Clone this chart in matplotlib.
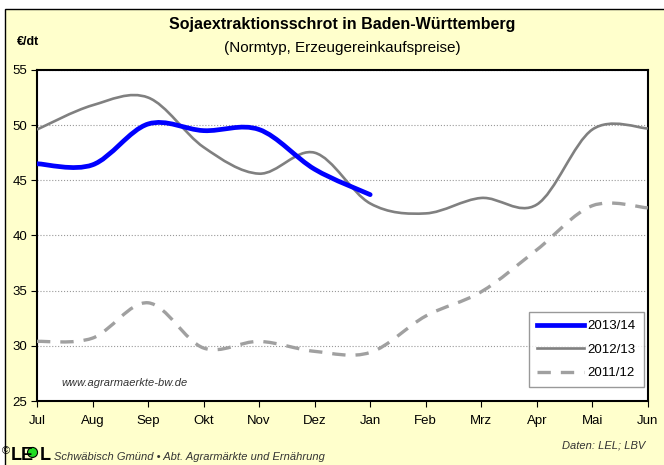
import numpy as np
import matplotlib.pyplot as plt
from matplotlib.path import Path
from matplotlib.patches import PathPatch, Rectangle, Ellipse
from matplotlib.lines import Line2D

plt.rcParams['font.family'] = ['Liberation Sans', 'DejaVu Sans']

months = ['Jul', 'Aug', 'Sep', 'Okt', 'Nov', 'Dez', 'Jan', 'Feb', 'Mrz', 'Apr', 'Mai', 'Jun']
s2013 = [46.5, 46.4, 50.1, 49.5, 49.6, 46.0, 43.7]
s2012 = [49.6, 51.8, 52.5, 48.0, 45.6, 47.5, 42.9, 42.0, 43.4, 42.8, 49.6, 49.7]
s2011 = [30.4, 30.7, 33.9, 29.8, 30.4, 29.5, 29.4, 32.7, 34.9, 38.7, 42.7, 42.5]


def smooth_path(y):
    # Excel-like smoothed line: cubic Bezier through each point
    x = np.arange(len(y), dtype=float)
    p = np.column_stack([x, np.asarray(y, dtype=float)])
    verts = [p[0]]
    codes = [Path.MOVETO]
    n = len(p)
    for i in range(n - 1):
        p0 = p[i - 1] if i > 0 else p[i]
        p3 = p[i + 2] if i + 2 < n else p[i + 1]
        c1 = p[i] + (p[i + 1] - p0) / 6
        c2 = p[i + 1] - (p3 - p[i]) / 6
        verts += [c1, c2, p[i + 1]]
        codes += [Path.CURVE4] * 3
    return Path(verts, codes)


fig = plt.figure(figsize=(6.64, 4.65), dpi=100)
fig.patch.set_facecolor('white')
fig.patches.append(Rectangle((0.0075, -0.05), 1.1, 1.031, transform=fig.transFigure,
                             facecolor='#FFFFCC', edgecolor='black', linewidth=1, zorder=-2))

ax = fig.add_axes([0.0557, 0.1376, 0.920, 0.712])
ax.set_facecolor('white')
ax.set_xlim(0, 11)
ax.set_ylim(25, 55)
ax.set_xticks(range(12))
ax.set_xticklabels(months)
ax.set_yticks(range(25, 56, 5))
ax.tick_params(direction='out', length=4, labelsize=9.5, colors='black', pad=3)
ax.tick_params(axis='x', pad=6)
ax.grid(axis='y', color='#999999', linestyle=':', linewidth=0.8)
ax.set_axisbelow(True)
for sp in ax.spines.values():
    sp.set_linewidth(1.5)
    sp.set_color('black')

ax.add_patch(PathPatch(smooth_path(s2011), facecolor='none', edgecolor='#A0A0A0',
                       linewidth=2.4, linestyle=(0, (4, 3)), capstyle='butt', zorder=3))
ax.add_patch(PathPatch(smooth_path(s2012), facecolor='none', edgecolor='#808080',
                       linewidth=1.9, zorder=4))
ax.add_patch(PathPatch(smooth_path(s2013), facecolor='none', edgecolor='#0000FF',
                       linewidth=3.4, capstyle='round', zorder=5))

handles = [
    Line2D([], [], color='#0000FF', linewidth=3.4),
    Line2D([], [], color='#808080', linewidth=1.9),
    Line2D([], [], color='#A0A0A0', linewidth=2.4, linestyle=(0, (4, 3))),
]
leg = ax.legend(handles, ['2013/14', '2012/13', '2011/12'], loc='lower right',
                bbox_to_anchor=(0.993, 0.042), borderaxespad=0, fontsize=9.5,
                frameon=True, fancybox=False, edgecolor='#808080', handlelength=3.5,
                handletextpad=0.3, labelspacing=0.85, borderpad=0.6)
leg.get_frame().set_linewidth(1)

ax.text(0.04, 0.045, 'www.agrarmaerkte-bw.de', transform=ax.transAxes, fontsize=8,
        style='italic', color='#333333')

fig.text(0.515, 0.938, 'Sojaextraktionsschrot in Baden-Württemberg', ha='center',
         fontsize=11.5, fontweight='bold')
fig.text(0.515, 0.888, '(Normtyp, Erzeugereinkaufspreise)', ha='center', fontsize=11)
fig.text(0.025, 0.904, '€/dt', fontsize=9, fontweight='bold')

fig.text(0.972, 0.035, 'Daten: LEL; LBV', ha='right', fontsize=8, style='italic',
         color='#333333')
fig.text(0.003, 0.024, '©', fontsize=8, color='black')
fig.text(0.016, 0.01, 'L', fontsize=13, fontweight='bold', color='black')
fig.text(0.031, 0.01, 'E', fontsize=13, fontweight='bold', color='black')
fig.patches.append(Ellipse((0.049, 0.027), 10 / 664, 10 / 465, transform=fig.transFigure,
                           facecolor='#22DD22', edgecolor='black', linewidth=0.8, zorder=3))
fig.text(0.060, 0.01, 'L', fontsize=13, fontweight='bold', color='black')
fig.text(0.081, 0.01, 'Schwäbisch Gmünd • Abt. Agrarmärkte und Ernährung', fontsize=8,
         style='italic', color='#333333')

fig.savefig('out.png', dpi=100)
